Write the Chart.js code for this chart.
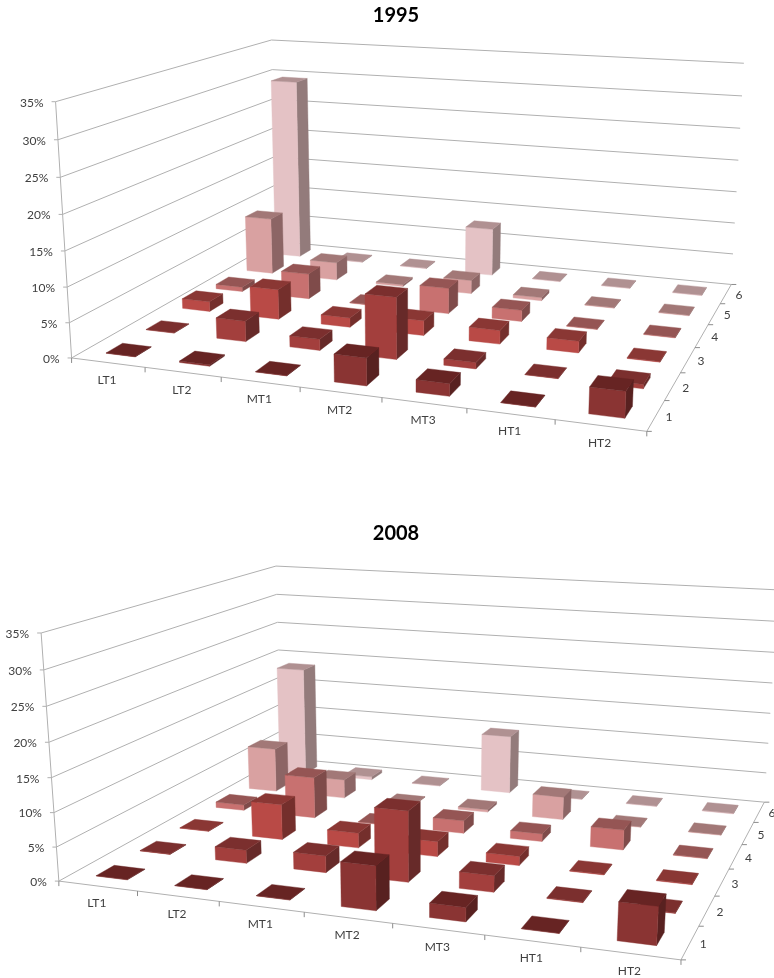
<!DOCTYPE html>
<html>
<head>
<meta charset="utf-8">
<title>Share by technology class, 1995 and 2008</title>
<script src="https://cdn.jsdelivr.net/npm/chart.js@4"></script>
<style>
  html, body { margin: 0; padding: 0; background: #fff; overflow: hidden; }
  canvas { display: block; }
</style>
</head>
<body>
<canvas id="c1995" width="774" height="518"></canvas>
<canvas id="c2008" width="774" height="460"></canvas>
<script>
// Categories along the front edge, and the depth rows running to the back.
const categories = ['LT1', 'LT2', 'MT1', 'MT2', 'MT3', 'HT1', 'HT2'];
const depthRows = ['1', '2', '3', '4', '5', '6'];

// Shares in percent, one array per depth row, one value per category.
const y1995row1 = [0.05, 0.2, 0.05, 3.8, 1.7, 0.05, 3.5];
const y1995row2 = [0.05, 3.0, 1.6, 8.8, 0.9, 0.05, 0.6];
const y1995row3 = [1.5, 4.5, 1.4, 2.2, 2.0, 1.7, 0.1];
const y1995row4 = [0.7, 3.9, 0.1, 3.9, 1.7, 0.1, 0.1];
const y1995row5 = [9.0, 2.8, 0.3, 2.1, 0.5, 0.1, 0.1];
const y1995row6 = [29.4, 0.1, 0.1, 7.6, 0.1, 0.1, 0.1];

const y2008row1 = [0.05, 0.05, 0.05, 6.3, 2.0, 0.05, 5.2];
const y2008row2 = [0.05, 2.0, 2.5, 10.4, 2.4, 0.1, 0.1];
const y2008row3 = [0.05, 5.5, 2.3, 2.3, 1.4, 0.1, 0.1];
const y2008row4 = [0.9, 6.6, 0.1, 2.0, 1.2, 3.1, 0.1];
const y2008row5 = [7.3, 3.1, 0.1, 0.4, 3.7, 0.1, 0.1];
const y2008row6 = [18.5, 0.5, 0.1, 9.7, 0.1, 0.1, 0.1];

// Face colours per depth row, nearest row first.
const frontColors = ['#8a3433', '#a33f3d', '#b94a46', '#c87170', '#d9a1a1', '#e4c2c5'];
const topColors = ['#672423', '#7b2f2e', '#8a3734', '#955554', '#a27877', '#b09192'];
const sideColors = ['#582120', '#672a29', '#742f2c', '#7f4b4a', '#8c6565', '#937b7b'];

const BAR_FRACTION_X = 0.4;
const BAR_FRACTION_DEPTH = 0.4;
const GRID_COLOR = '#b0b0b0';
const TEXT_COLOR = '#404040';
const LABEL_FONT = '12px Lato';

// Camera: solves the 3x4 projection from (across, depth, height) in 0..1 to canvas pixels.
function solveCamera(anchors) {
  const A = [], b = [];
  for (const [u, v, w, X, Y] of anchors) {
    A.push([u, v, w, 1, 0, 0, 0, 0, -X * u, -X * v, -X * w]); b.push(X);
    A.push([0, 0, 0, 0, u, v, w, 1, -Y * u, -Y * v, -Y * w]); b.push(Y);
  }
  const n = 11;
  const N = Array.from({ length: n }, () => new Array(n + 1).fill(0));
  A.forEach((row, r) => {
    for (let i = 0; i < n; i++) {
      for (let j = 0; j < n; j++) N[i][j] += row[i] * row[j];
      N[i][n] += row[i] * b[r];
    }
  });
  for (let i = 0; i < n; i++) {
    let p = i;
    for (let r = i + 1; r < n; r++) if (Math.abs(N[r][i]) > Math.abs(N[p][i])) p = r;
    [N[i], N[p]] = [N[p], N[i]];
    for (let r = 0; r < n; r++) {
      if (r === i) continue;
      const f = N[r][i] / N[i][i];
      for (let c = i; c <= n; c++) N[r][c] -= f * N[i][c];
    }
  }
  const m = N.map((row, i) => row[n] / row[i]);
  return (u, v, w) => {
    const d = m[8] * u + m[9] * v + m[10] * w + 1;
    return [(m[0] * u + m[1] * v + m[2] * w + m[3]) / d,
            (m[4] * u + m[5] * v + m[6] * w + m[7]) / d];
  };
}

const cameras = new Map();

function fractions(chart) {
  const { x, y, depth } = chart.scales;
  const area = chart.chartArea;
  return {
    across: i => (x.getPixelForValue(i) - area.left) / area.width,
    back: j => (depth.getPixelForValue(j) - area.left) / area.width,
    up: v => (area.bottom - y.getPixelForValue(v)) / area.height
  };
}

function polygon(ctx, pts, fill) {
  ctx.beginPath();
  pts.forEach((p, i) => (i ? ctx.lineTo(p[0], p[1]) : ctx.moveTo(p[0], p[1])));
  ctx.closePath();
  ctx.fillStyle = fill;
  ctx.fill();
  ctx.strokeStyle = fill;
  ctx.lineWidth = 0.4;
  ctx.stroke();
}

function segment(ctx, a, b) {
  ctx.beginPath();
  ctx.moveTo(a[0], a[1]);
  ctx.lineTo(b[0], b[1]);
  ctx.stroke();
}

// Bar controller that paints each value as a box standing on the projected floor.
class Box3DController extends Chart.BarController {
  static id = 'box3d';
  static defaults = Chart.BarController.defaults;
  static overrides = Chart.BarController.overrides;

  draw() {
    const chart = this.chart;
    const ctx = chart.ctx;
    const P = cameras.get(chart.canvas.id);
    const f = fractions(chart);
    const row = this.index;
    const halfU = BAR_FRACTION_X / categories.length / 2;
    const halfV = BAR_FRACTION_DEPTH / depthRows.length / 2;
    const v0 = f.back(row) - halfV, v1 = f.back(row) + halfV;
    ctx.save();
    this._cachedMeta.data.forEach((_, i) => {
      const w = f.up(this.getParsed(i).y);
      const u0 = f.across(i) - halfU, u1 = f.across(i) + halfU;
      polygon(ctx, [P(u1, v0, 0), P(u1, v1, 0), P(u1, v1, w), P(u1, v0, w)], sideColors[row]);
      polygon(ctx, [P(u0, v0, 0), P(u1, v0, 0), P(u1, v0, w), P(u0, v0, w)], frontColors[row]);
      polygon(ctx, [P(u0, v0, w), P(u1, v0, w), P(u1, v1, w), P(u0, v1, w)], topColors[row]);
    });
    ctx.restore();
  }
}
Chart.register(Box3DController);

// Walls, floor outline, tick marks and the axis labels, all placed from the chart's scales.
const view3d = {
  id: 'view3d',
  beforeDatasetsDraw(chart) {
    const ctx = chart.ctx;
    const P = cameras.get(chart.canvas.id);
    const { x, y, depth } = chart.scales;
    const f = fractions(chart);
    ctx.save();
    ctx.strokeStyle = GRID_COLOR;
    ctx.lineWidth = 1;
    y.ticks.forEach(t => {
      const w = f.up(t.value);
      segment(ctx, P(0, 0, w), P(0, 1, w));
      segment(ctx, P(0, 1, w), P(1, 1, w));
      const a = P(0, 0, w);
      segment(ctx, a, [a[0] - 4, a[1]]);
    });
    segment(ctx, P(0, 0, 0), P(0, 0, 1));
    segment(ctx, P(0, 0, 0), P(1, 0, 0));
    segment(ctx, P(1, 0, 0), P(1, 1, 0));
    ctx.strokeStyle = '#8c8c8c';
    for (let i = 0; i <= categories.length; i++) {
      const a = P(i / categories.length, 0, 0);
      segment(ctx, a, [a[0], a[1] + 5]);
    }
    for (let j = 0; j <= depthRows.length; j++) {
      const a = P(1, j / depthRows.length, 0);
      segment(ctx, a, [a[0] + 5, a[1]]);
    }

    ctx.fillStyle = TEXT_COLOR;
    ctx.font = LABEL_FONT;
    ctx.textBaseline = 'middle';
    ctx.textAlign = 'right';
    y.ticks.forEach(t => {
      const a = P(0, 0, f.up(t.value));
      ctx.fillText(t.label, a[0] - 12, a[1] + 1);
    });
    ctx.textAlign = 'center';
    x.getLabels().forEach((label, i) => {
      const a = P(f.across(i), 0, 0);
      ctx.fillText(label, a[0] - 1, a[1] + 17.5);
    });
    depth.getLabels().forEach((label, j) => {
      const a = P(1, f.back(j), 0);
      ctx.fillText(label, a[0] + 13, a[1] + 1.5);
    });
    ctx.restore();
  }
};

function buildChart(canvasId, year, rows, anchors) {
  const canvas = document.getElementById(canvasId);
  const top = canvas.offsetTop;
  cameras.set(canvasId, solveCamera(anchors.map(([u, v, w, X, Y]) => [u, v, w, X, Y - top])));
  return new Chart(canvas, {
    type: 'box3d',
    data: {
      labels: categories,
      datasets: rows.map((data, j) => ({ label: depthRows[j], data }))
    },
    options: {
      responsive: false,
      animation: false,
      grouped: false,
      layout: { padding: { left: 18 } },
      scales: {
        x: { display: false },
        y: { display: false, min: 0, max: 35, ticks: { stepSize: 5, callback: v => v + '%' } },
        depth: { axis: 'x', type: 'category', labels: depthRows, offset: true, display: false }
      },
      plugins: {
        legend: { display: false },
        tooltip: { enabled: false },
        title: {
          display: true,
          text: year,
          fullSize: false,
          color: '#000',
          font: { family: 'Lato', size: 20, weight: 'bold' },
          padding: { top: 3.5, bottom: 10 }
        }
      }
    },
    plugins: [view3d]
  });
}

// Anchor points of each plot box: across, depth, height, then page x and y.
buildChart('c1995', '1995',
  [y1995row1, y1995row2, y1995row3, y1995row4, y1995row5, y1995row6],
  [[0, 0, 0, 71, 358], [1, 0, 0, 647, 431], [1, 1, 0, 731, 285], [0, 1, 0, 277, 241],
   [0, 0, 1, 56, 102], [0, 1, 1, 271, 40], [1, 1, 1, 744, 63]]);

buildChart('c2008', '2008',
  [y2008row1, y2008row2, y2008row3, y2008row4, y2008row5, y2008row6],
  [[0, 0, 0, 58, 881], [1, 0, 0, 681, 960], [1, 1, 0, 764, 802], [0, 1, 0, 282, 758],
   [0, 0, 1, 42, 633], [0, 1, 1, 275, 566], [1, 1, 1, 779, 590]]);
</script>
</body>
</html>
